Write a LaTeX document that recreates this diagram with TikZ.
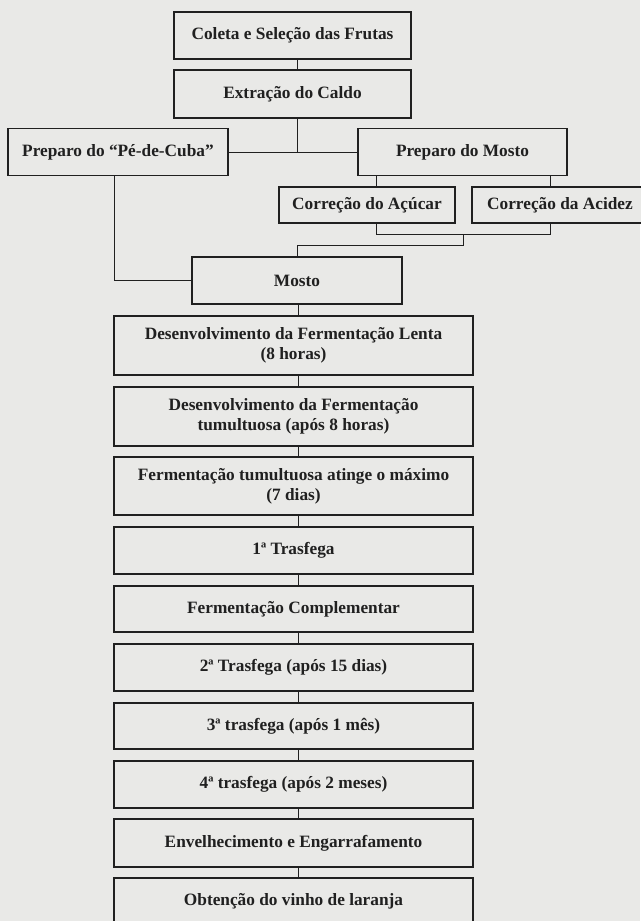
\documentclass[tikz,border=0pt]{standalone}
\usepackage{fontspec}
\setmainfont{Liberation Serif}
\definecolor{paper}{RGB}{233,233,231}
\definecolor{ink}{RGB}{32,32,32}

\begin{document}
\begin{tikzpicture}[
    x=1pt, y=-1pt, % pixel units, y pointing down
    stage/.style = {draw=ink, line width=1.3pt, fill=paper, text=ink, inner sep=0pt,
                    align=center, font=\bfseries\fontsize{17.3}{20}\selectfont},
    mainstage/.style = {stage, minimum width=359pt},
    link/.style = {draw=ink, line width=0.9pt}
    ]
    \fill[paper] (0,0) rectangle (640,921);
    \useasboundingbox (0,0) rectangle (640,921);

    % top of the chart
    \node[stage, minimum width=237pt, minimum height=47pt] (coleta) at (292.5,35.5) {Coleta e Seleção das Frutas};
    \node[stage, minimum width=237pt, minimum height=48pt] (caldo) at (292.5,94) {Extração do Caldo};
    \node[stage, minimum width=220pt, minimum height=47pt] (pecuba) at (118,152) {Preparo do “Pé-de-Cuba”};
    \node[stage, minimum width=209pt, minimum height=47pt] (prepmosto) at (462.5,152) {Preparo do Mosto};
    \node[stage, minimum width=176pt, minimum height=36pt] (acucar) at (367,205) {Correção do Açúcar};
    \node[stage, minimum width=176pt, minimum height=36pt] (acidez) at (560,205) {Correção da Acidez};
    \node[stage, minimum width=210pt, minimum height=47pt] (mosto) at (297,280.5) {Mosto};

    % main column
    \node[mainstage, minimum height=59pt] (lenta) at (293.5,345.5) {Desenvolvimento da Fermentação Lenta\\(8 horas)};
    \node[mainstage, minimum height=59pt] (tumult) at (293.5,416.5) {Desenvolvimento da Fermentação\\tumultuosa (após 8 horas)};
    \node[mainstage, minimum height=58pt] (maximo) at (293.5,486) {Fermentação tumultuosa atinge o máximo\\(7 dias)};
    \node[mainstage, minimum height=47pt] (trasf1) at (293.5,550.5) {1ª Trasfega};
    \node[mainstage, minimum height=46pt] (complem) at (293.5,609) {Fermentação Complementar};
    \node[mainstage, minimum height=47pt] (trasf2) at (293.5,667.5) {2ª Trasfega (após 15 dias)};
    \node[mainstage, minimum height=46pt] (trasf3) at (293.5,726) {3ª trasfega (após 1 mês)};
    \node[mainstage, minimum height=47pt] (trasf4) at (293.5,784.5) {4ª trasfega (após 2 meses)};
    \node[mainstage, minimum height=48pt] (envelh) at (293.5,843) {Envelhecimento e Engarrafamento};
    \node[mainstage, minimum height=47pt] (vinho) at (293.5,901.5) {Obtenção do vinho de laranja};

    % connectors
    \draw[link] ([xshift=4.5]coleta.south) -- ([xshift=4.5]caldo.north);
    \draw[link] ([xshift=4.5]caldo.south) |- (pecuba.east);
    \draw[link] (pecuba.east) -- (prepmosto.west);
    \draw[link] ([xshift=9]acucar.north) -- ([xshift=9]acucar.north |- prepmosto.south);
    \draw[link] ([xshift=-10]acidez.north) -- ([xshift=-10]acidez.north |- prepmosto.south);
    \draw[link] ([xshift=9]acucar.south) -- ++(0,11) -| ([xshift=-10]acidez.south);
    \coordinate (jmid) at (463,234);
    \draw[link] (jmid) -- ++(0,11) -| (mosto.north);
    \draw[link] ([xshift=-4]pecuba.south) |- (mosto.west);
    \draw[link] ([xshift=1]mosto.south) -- ([xshift=4.5]lenta.north);
    \draw[link] ([xshift=4.5]lenta.south) -- ([xshift=4.5]tumult.north);
    \draw[link] ([xshift=4.5]tumult.south) -- ([xshift=4.5]maximo.north);
    \draw[link] ([xshift=4.5]maximo.south) -- ([xshift=4.5]trasf1.north);
    \draw[link] ([xshift=4.5]trasf1.south) -- ([xshift=4.5]complem.north);
    \draw[link] ([xshift=4.5]complem.south) -- ([xshift=4.5]trasf2.north);
    \draw[link] ([xshift=4.5]trasf2.south) -- ([xshift=4.5]trasf3.north);
    \draw[link] ([xshift=4.5]trasf3.south) -- ([xshift=4.5]trasf4.north);
    \draw[link] ([xshift=4.5]trasf4.south) -- ([xshift=4.5]envelh.north);
    \draw[link] ([xshift=4.5]envelh.south) -- ([xshift=4.5]vinho.north);
\end{tikzpicture}
\end{document}
